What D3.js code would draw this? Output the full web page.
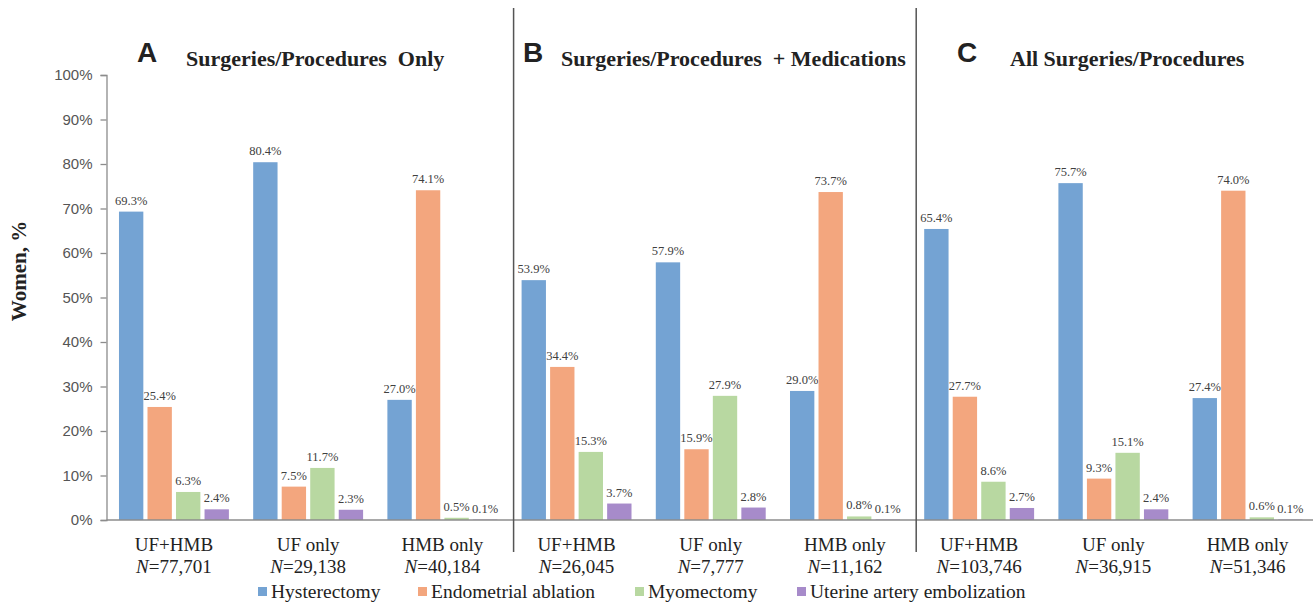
<!DOCTYPE html>
<html>
<head>
<meta charset="utf-8">
<script src="https://cdn.jsdelivr.net/npm/d3@7"></script>
<style>
  html, body { margin: 0; padding: 0; background: #fff; }
  svg { display: block; }
</style>
</head>
<body>
<svg id="chart" width="1315" height="603"></svg>
<script>
// ---------- data ----------
const groupIds = ["A1","A2","A3","B1","B2","B3","C1","C2","C3"];
const groupPanels = ["A","A","A","B","B","B","C","C","C"];
const groupNames = ["UF+HMB","UF only","HMB only","UF+HMB","UF only","HMB only","UF+HMB","UF only","HMB only"];
const groupN = ["77,701","29,138","40,184","26,045","7,777","11,162","103,746","36,915","51,346"];
const seriesNames = ["Hysterectomy","Endometrial ablation","Myomectomy","Uterine artery embolization"];
const hysterectomy = [69.3, 80.4, 27.0, 53.9, 57.9, 29.0, 65.4, 75.7, 27.4];
const ablation     = [25.4, 7.5, 74.1, 34.4, 15.9, 73.7, 27.7, 9.3, 74.0];
const myomectomy   = [6.3, 11.7, 0.5, 15.3, 27.9, 0.8, 8.6, 15.1, 0.6];
const embolization = [2.4, 2.3, 0.1, 3.7, 2.8, 0.1, 2.7, 2.4, 0.1];
const panelLetters = ["A","B","C"];
const panelTitles = ["Surgeries/Procedures  Only","Surgeries/Procedures  + Medications","All Surgeries/Procedures"];
const yTicks = [0,10,20,30,40,50,60,70,80,90,100];
const seriesColors = ["#74A3D3","#F3A67E","#B8D8A1","#A78BCA"];

// ---------- layout ----------
const svg = d3.select("#chart");
const W = 1315, H = 603;
const axisX = 106.5, baseY = 520, topY = 75;
const serif = "'Liberation Serif', 'Times New Roman', serif";

const y = d3.scaleLinear().domain([0,100]).range([baseY, topY]);
const x0 = d3.scaleBand().domain(groupIds).range([axisX, W]).paddingInner(0.181).paddingOuter(0.093);
const x1 = d3.scaleBand().domain(seriesNames).range([0, x0.bandwidth()]).paddingInner(0.146).paddingOuter(0);
const color = d3.scaleOrdinal().domain(seriesNames).range(seriesColors);

const seriesValues = [hysterectomy, ablation, myomectomy, embolization];

svg.append("rect").attr("width", W).attr("height", H).attr("fill", "#fff");

// y axis
const yAxis = d3.axisLeft(y).tickValues(yTicks).tickSize(6).tickPadding(8).tickFormat(d => d + "%");
const gy = svg.append("g").attr("transform", `translate(${axisX},0)`).call(yAxis);
gy.select(".domain").attr("stroke", "#8c8c8c").attr("stroke-width", 1.3);
gy.selectAll(".tick line").attr("stroke", "#8c8c8c").attr("stroke-width", 1.3);
gy.selectAll(".tick text")
  .attr("font-family", "'Liberation Sans', Arial, sans-serif")
  .attr("font-size", 15).attr("fill", "#555");

// bars
const groups = svg.append("g").selectAll("g.grp")
  .data(groupIds).join("g").attr("class","grp")
  .attr("transform", d => `translate(${x0(d)},0)`);

groups.each(function(gid, gi) {
  const g = d3.select(this);
  seriesNames.forEach((s, si) => {
    const v = seriesValues[si][gi];
    g.append("rect")
      .attr("x", x1(s)).attr("width", x1.bandwidth())
      .attr("y", y(v)).attr("height", baseY - y(v))
      .attr("fill", color(s));
    g.append("text")
      .attr("x", x1(s) + x1.bandwidth()/2)
      .attr("y", y(v) - 7)
      .attr("text-anchor", "middle")
      .attr("font-family", serif)
      .attr("font-size", 12.5).attr("fill", "#404040")
      .text(v.toFixed(1) + "%");
  });
  // category labels
  const cx = x0.bandwidth()/2;
  g.append("text").attr("x", cx).attr("y", 551).attr("text-anchor","middle")
    .attr("font-family", serif)
    .attr("font-size", 19).attr("fill", "#222").text(groupNames[gi]);
  const t = g.append("text").attr("x", cx).attr("y", 573).attr("text-anchor","middle")
    .attr("font-family", serif)
    .attr("font-size", 19).attr("fill", "#222");
  t.append("tspan").attr("font-style","italic").text("N");
  t.append("tspan").text("=" + groupN[gi]);
});

// baseline (x axis)
svg.append("line").attr("x1", axisX).attr("x2", 1313).attr("y1", baseY).attr("y2", baseY)
  .attr("stroke", "#8c8c8c").attr("stroke-width", 1.6);

// panel separators
[3, 6].forEach(i => {
  const sx = x0(groupIds[i]) - 8;
  svg.append("line").attr("x1", sx).attr("x2", sx).attr("y1", 8).attr("y2", 552)
    .attr("stroke", "#555").attr("stroke-width", 1.5);
});

// panel titles
const letterX = [137, 523, 957];
const titleX = [186, 561, 1010];
panelLetters.forEach((L, i) => {
  svg.append("text").attr("x", letterX[i]).attr("y", 62)
    .attr("font-family", "'Liberation Sans', Arial, sans-serif")
    .attr("font-weight", "bold").attr("font-size", 28).attr("fill", "#222").text(L);
  svg.append("text").attr("x", titleX[i]).attr("y", 66)
    .attr("font-family", serif)
    .attr("font-weight", "bold").attr("font-size", 22).attr("fill", "#222")
    .attr("xml:space", "preserve").style("white-space", "pre")
    .text(panelTitles[i]);
});

// y label
svg.append("text").attr("transform", "translate(26,271) rotate(-90)")
  .attr("text-anchor", "middle")
  .attr("font-family", serif)
  .attr("font-weight", "bold").attr("font-size", 21).attr("fill", "#222")
  .text("Women, %");

// legend
const legendX = [258, 418, 635, 797];
seriesNames.forEach((s, i) => {
  svg.append("rect").attr("x", legendX[i]).attr("y", 587).attr("width", 9).attr("height", 9).attr("fill", color(s));
  svg.append("text").attr("x", legendX[i] + 13).attr("y", 598)
    .attr("font-family", serif)
    .attr("font-size", 19.5).attr("fill", "#222").text(s);
});
</script>
</body>
</html>
